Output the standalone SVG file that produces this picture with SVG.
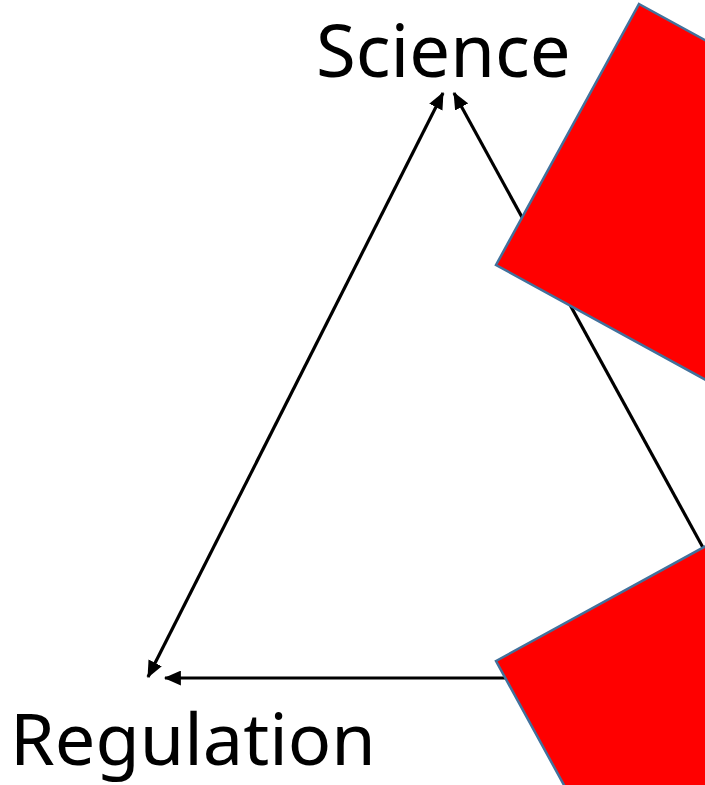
<svg xmlns="http://www.w3.org/2000/svg" width="705" height="785" viewBox="0 0 705 785">
<style>
.lbl{font-family:"Noto Sans","Open Sans","Liberation Sans",sans-serif;fill:#000}
.conn{stroke:#000;stroke-width:3.2;fill:none}
.red{fill:#FF0000;stroke:#41719C;stroke-width:2.5;stroke-linejoin:miter}
</style>
<defs>
<marker id="ah" markerUnits="userSpaceOnUse" markerWidth="18" markerHeight="15" refX="15" refY="7" orient="auto-start-reverse" viewBox="0 0 17 14">
<path d="M0,0 L16,7 L0,14 z" fill="#000"/>
</marker>
</defs>
<rect width="705" height="785" fill="#fff"/>
<g id="connectors">
<line class="conn" x1="148" y1="677" x2="443" y2="93" marker-start="url(#ah)" marker-end="url(#ah)"/>
<line class="conn" x1="712" y1="564" x2="454" y2="93" marker-end="url(#ah)"/>
<line class="conn" x1="520" y1="678" x2="165" y2="678" marker-end="url(#ah)"/>
</g>
<g id="science">
<text class="lbl" x="316" y="77" font-size="72.5">Science</text>
</g>
<g id="regulation">
<text class="lbl" x="10" y="765" font-size="72">Regulation</text>
</g>
<g id="red-shape-top">
<polygon class="red" points="639,4 900,147 757,408 496,265"/>
</g>
<g id="red-shape-bottom">
<polygon class="red" points="496,661 757,518 900,779 639,922"/>
</g>
</svg>
